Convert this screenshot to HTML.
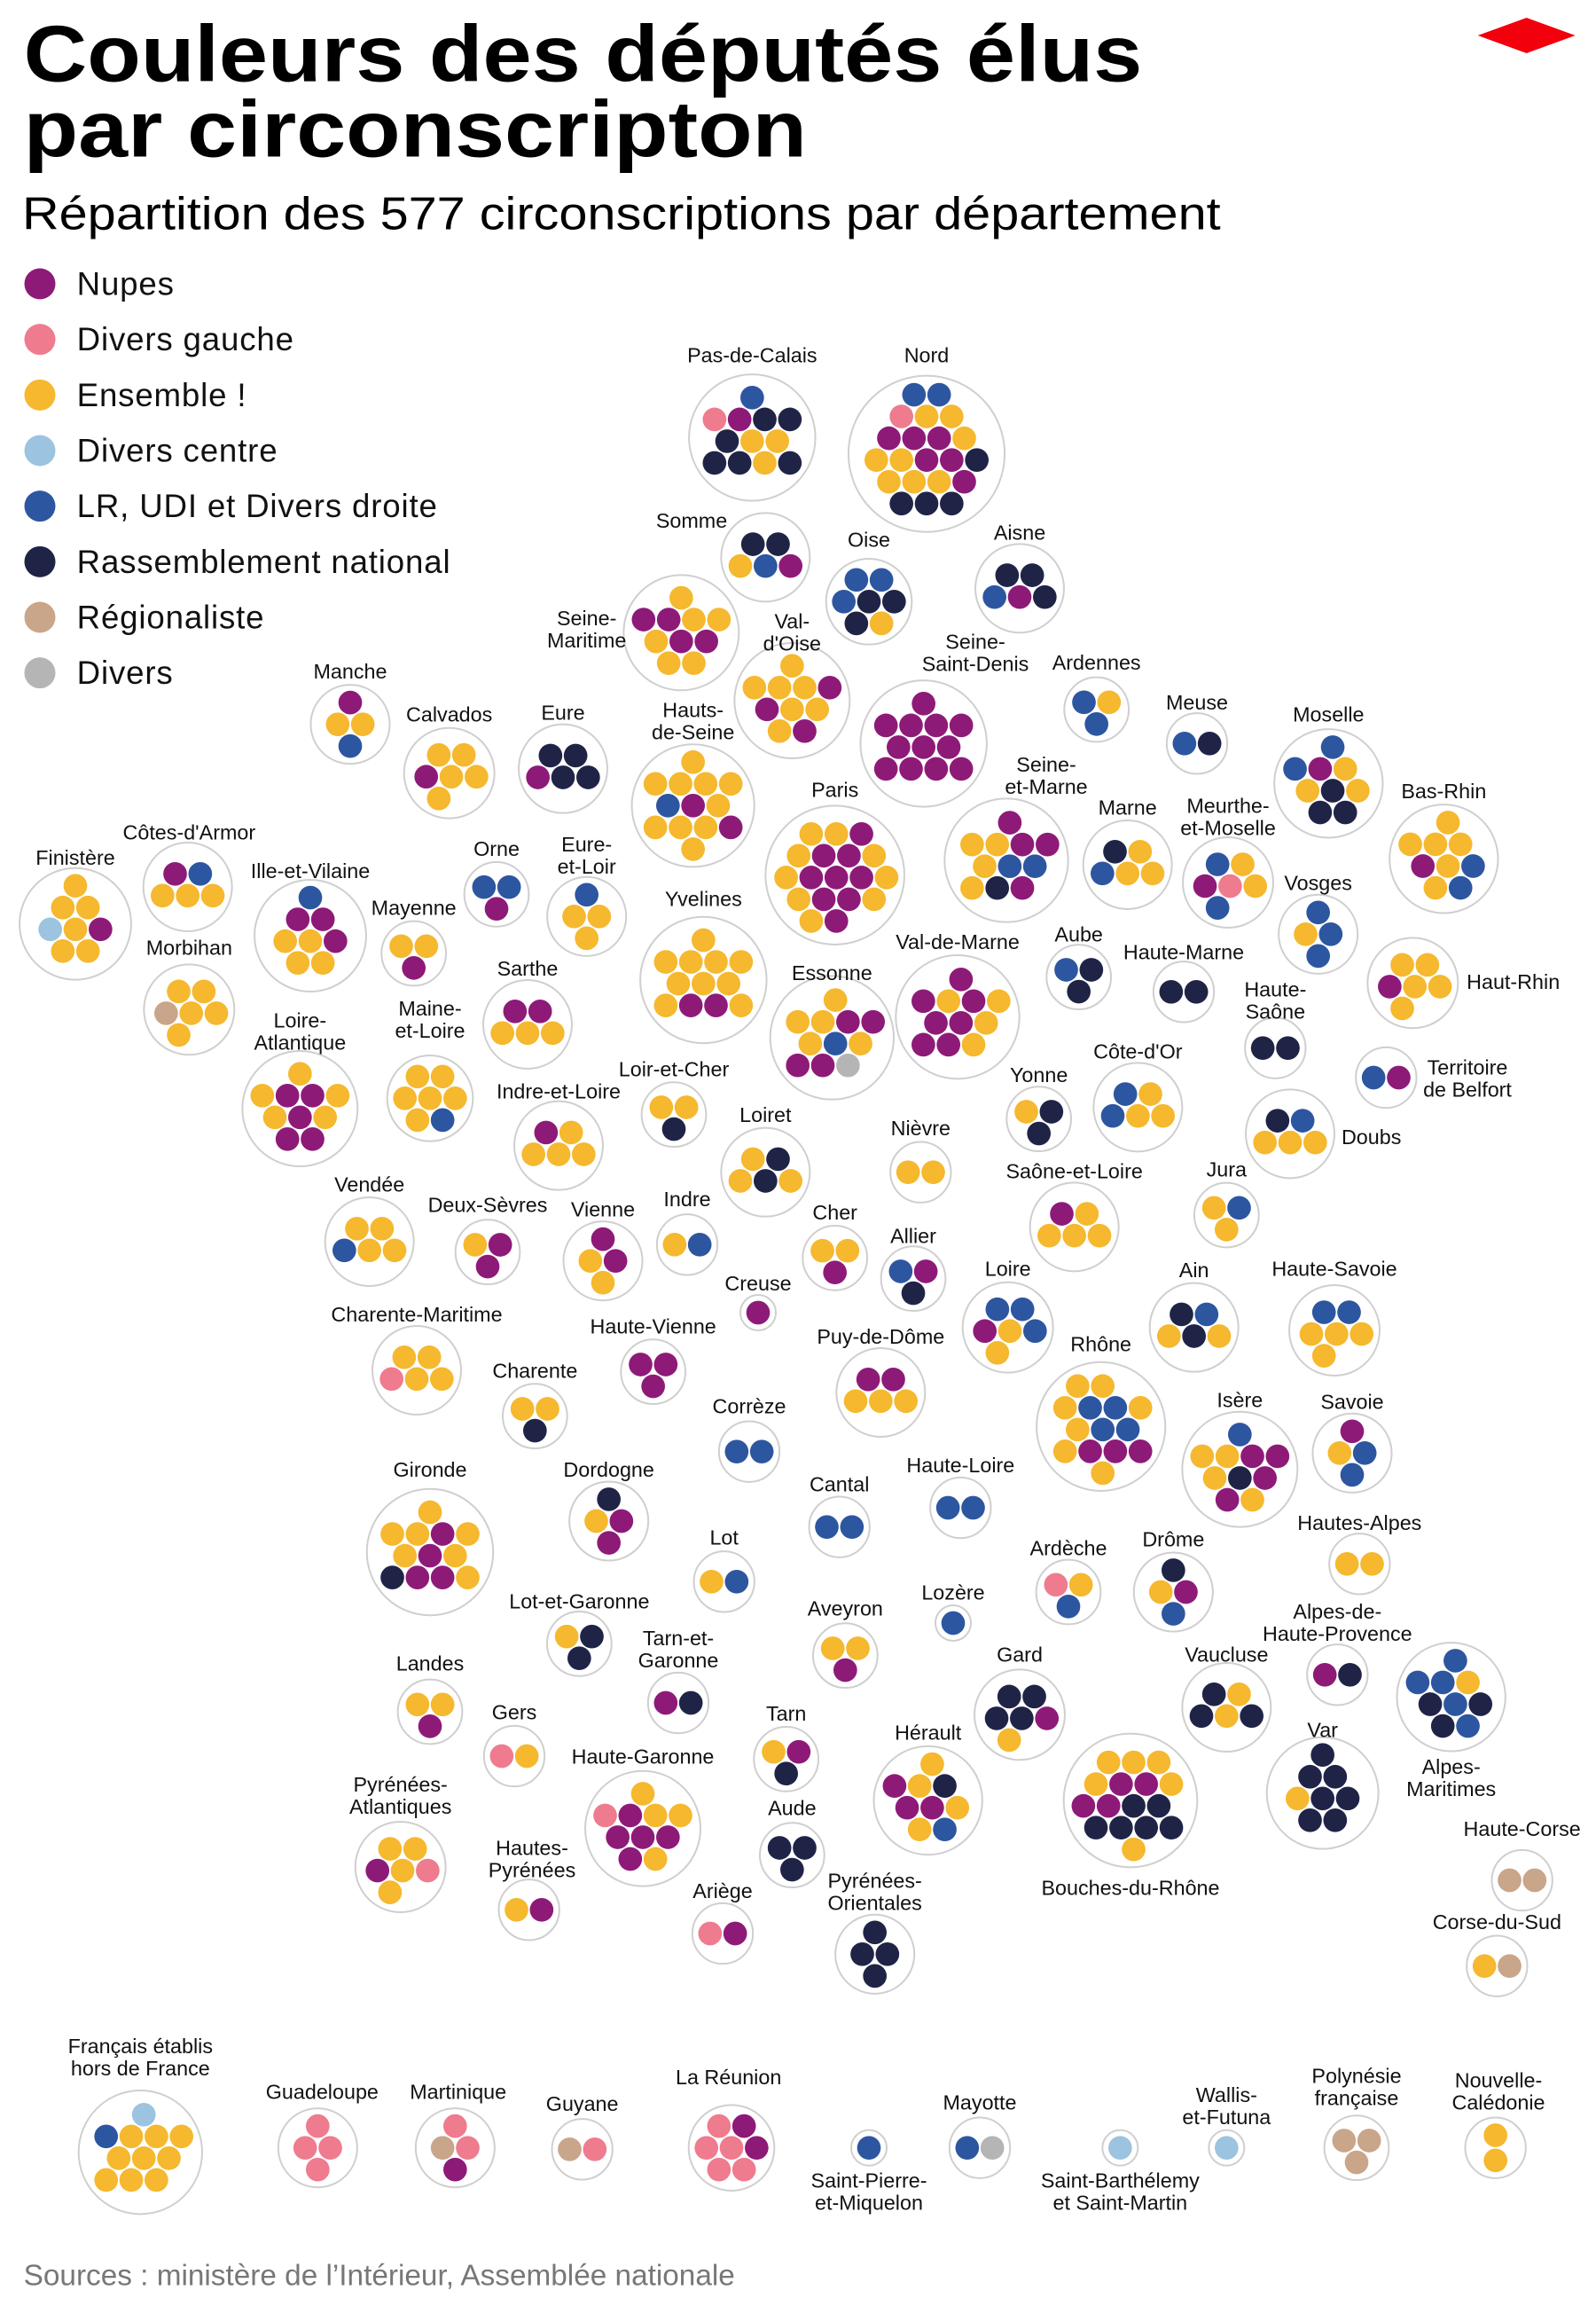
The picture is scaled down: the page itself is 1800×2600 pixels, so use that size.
<!DOCTYPE html>
<html><head><meta charset="utf-8">
<style>
html,body{margin:0;padding:0;background:#fff;}
svg{display:block;}
text{font-family:"Liberation Sans",sans-serif;}
</style></head>
<body>
<svg id="s" xmlns="http://www.w3.org/2000/svg" width="1800" height="2600" viewBox="0 0 1080 1560">
<rect width="1080" height="1560" fill="#fff"/>
<text x="16" y="55" font-size="54" font-weight="900" textLength="757" lengthAdjust="spacingAndGlyphs" fill="#000">Couleurs des députés élus</text>
<text x="16" y="106" font-size="54" font-weight="900" textLength="530" lengthAdjust="spacingAndGlyphs" fill="#000">par circonscripton</text>
<text x="15" y="155" font-size="31" textLength="811" lengthAdjust="spacingAndGlyphs" fill="#000">Répartition des 577 circonscriptions par département</text>
<polygon points="1000,24 1033,12 1066,24 1033,36" fill="#f2000c"/>
<g id="legend"></g>
<g id="chart"></g>
<text x="16" y="1546" font-size="20" fill="#777">Sources : ministère de l’Intérieur, Assemblée nationale</text>
</svg>
<script>
var C={N:"#8e1a78",G:"#ef7b8e",E:"#f5b82e",C:"#9cc3e0",L:"#2d56a0",R:"#1f2447",T:"#c9a58a",D:"#b5b5b5"};
var NS="http://www.w3.org/2000/svg";
function el(t,a,p,txt){var e=document.createElementNS(NS,t);for(var k in a)e.setAttribute(k,a[k]);if(txt!==undefined)e.textContent=txt;(p||document.getElementById('chart')).appendChild(e);return e;}
var leg=[["N","Nupes"],["G","Divers gauche"],["E","Ensemble !"],["C","Divers centre"],["L","LR, UDI et Divers droite"],["R","Rassemblement national"],["T","Régionaliste"],["D","Divers"]];
var lg=document.getElementById('legend');
leg.forEach(function(l,i){var y=192+i*37.6;el('circle',{cx:27,cy:y,r:10.5,fill:C[l[0]]},lg);el('text',{x:52,y:y+7.5,'font-size':22,fill:'#111','letter-spacing':'0.5'},lg,l[1]);});
var D=[
["Pas-de-Calais",509,240,509,296,"LGNRRREERRER"],
["Nord",627,240,627,307,"LLGEENNNEEENNREEENRRR"],
["Somme",468,352,518,377,"RRELN"],
["Oise",588,365,588,407,"LLLRRRE"],
["Aisne",690,360,690,398,"RRLNR"],
["Seine-|Maritime",397,418,461,428,"ENNEEENNEE"],
["Val-|d'Oise",536,420,536,474,"EEEENNEEEN"],
["Seine-|Saint-Denis",660,434,625,503,"NNNNNNNNNNNN"],
["Ardennes",742,448,742,480,"LEL"],
["Meuse",810,475,810,503,"LR"],
["Moselle",899,483,899,530,"LLNEERERR"],
["Manche",237,454,237,490,"NEEL"],
["Calvados",304,483,304,523,"EENEEE"],
["Eure",381,482,381,520,"RRNRR"],
["Hauts-|de-Seine",469,480,469,545,"EEEEELNEEEENE"],
["Paris",565,534,565,592,"EENENNEENNNEENNEEN"],
["Seine-|et-Marne",708,517,681,582,"NEENNELLERN"],
["Marne",763,546,763,585,"RELEE"],
["Meurthe-|et-Moselle",831,545,831,597,"LENGEL"],
["Bas-Rhin",977,535,977,581,"EEEENELEL"],
["Finistère",51,580,51,625,"EEECENEE"],
["Côtes-d'Armor",128,563,127,600,"NLEEE"],
["Ille-et-Vilaine",210,589,210,633,"LNNEENEE"],
["Orne",336,574,336,605,"LLN"],
["Eure-|et-Loir",397,571,397,620,"LEEE"],
["Mayenne",280,614,280,645,"EEN"],
["Yvelines",476,608,476,663,"EEEEEEEEENNE"],
["Vosges",892,597,892,632,"LELL"],
["Haut-Rhin",1024,664,956,665,"EENEEE"],
["Morbihan",128,641,128,683,"EETEEE"],
["Sarthe",357,655,357,693,"NNEEE"],
["Essonne",563,658,563,702,"EEENNELENND"],
["Val-de-Marne",648,637,648,688,"NNENENNENNE"],
["Aube",730,632,730,661,"LRR"],
["Haute-Marne",801,644,801,671,"RR"],
["Haute-|Saône",863,669,863,709,"RR"],
["Loire-|Atlantique",203,690,203,750,"EENNEENENN"],
["Maine-|et-Loire",291,682,291,743,"EEEEEEL"],
["Loir-et-Cher",456,723,456,754,"EER"],
["Indre-et-Loire",378,738,378,775,"NEEEE"],
["Territoire|de Belfort",993,722,938,729,"LN"],
["Côte-d'Or",770,711,770,749,"LELEE"],
["Yonne",703,727,703,757,"ERR"],
["Doubs",928,769,873,767,"RLEEE"],
["Loiret",518,754,518,793,"ERERE"],
["Nièvre",623,763,623,793,"EE"],
["Saône-et-Loire",727,792,727,830,"NEEEE"],
["Jura",830,791,830,822,"ELE"],
["Vendée",250,801,250,840,"EELEE"],
["Deux-Sèvres",330,815,330,847,"ENN"],
["Vienne",408,818,408,853,"NENE"],
["Indre",465,811,465,842,"EL"],
["Cher",565,820,565,851,"EEN"],
["Allier",618,836,618,865,"LNR"],
["Creuse",513,868,513,888,"N"],
["Loire",682,858,682,898,"LLNELE"],
["Ain",808,859,808,898,"RLERE"],
["Haute-Savoie",903,858,903,900,"LLEEEE"],
["Charente-Maritime",282,889,282,927,"EEGEE"],
["Haute-Vienne",442,897,442,928,"NNN"],
["Charente",362,927,362,958,"EER"],
["Puy-de-Dôme",596,904,596,942,"NNEEE"],
["Rhône",745,909,745,965,"EEELLEELLENNNE"],
["Isère",839,947,839,994,"LEENNERNNE"],
["Savoie",915,948,915,983,"NELL"],
["Corrèze",507,951,507,982,"LL"],
["Gironde",291,994,291,1050,"EEENEENERNNE"],
["Dordogne",412,994,412,1029,"RENN"],
["Cantal",568,1004,568,1033,"LL"],
["Haute-Loire",650,991,650,1020,"LL"],
["Hautes-Alpes",920,1030,920,1058,"EE"],
["Lot",490,1040,490,1070,"EL"],
["Ardèche",723,1047,723,1077,"GEL"],
["Drôme",794,1041,794,1077,"RENL"],
["Lot-et-Garonne",392,1083,392,1112,"ERR"],
["Lozère",645,1077,645,1098,"L"],
["Aveyron",572,1088,572,1120,"EEN"],
["Alpes-de-|Haute-Provence",905,1090,905,1133,"NR"],
["Tarn-et-|Garonne",459,1108,459,1152,"NR"],
["Landes",291,1125,291,1158,"EEN"],
["Gard",690,1119,690,1160,"RRRRNE"],
["Vaucluse",830,1119,830,1155,"RERER"],
["Alpes-|Maritimes",982,1195,982,1148,"LLLERLRRL"],
["Gers",348,1158,348,1188,"GE"],
["Haute-Garonne",435,1188,435,1237,"EGNEENNNNE"],
["Tarn",532,1159,532,1190,"ENR"],
["Hérault",628,1172,628,1218,"ENERNNEEL"],
["Bouches-du-Rhône",765,1277,765,1218,"EEEENNENNRRRRRRE"],
["Var",895,1170,895,1213,"RRRERRRR"],
["Pyrénées-|Atlantiques",271,1207,271,1263,"EENEGE"],
["Aude",536,1223,536,1255,"RRR"],
["Hautes-|Pyrénées",360,1250,358,1292,"EN"],
["Ariège",489,1279,489,1308,"GN"],
["Pyrénées-|Orientales",592,1272,592,1322,"RRRR"],
["Haute-Corse",1030,1237,1030,1272,"TT"],
["Corse-du-Sud",1013,1300,1013,1330,"ET"],
["Français établis|hors de France",95,1384,95,1456,"CLEEEEEEEEE"],
["Guadeloupe",218,1415,215,1453,"GGGG"],
["Martinique",310,1415,308,1453,"GTGN"],
["Guyane",394,1423,394,1454,"TG"],
["La Réunion",493,1405,495,1453,"GNGGNGG"],
["Saint-Pierre-|et-Miquelon",588,1475,588,1453,"L"],
["Mayotte",663,1422,663,1453,"LD"],
["Saint-Barthélemy|et Saint-Martin",758,1475,758,1453,"C"],
["Wallis-|et-Futuna",830,1417,830,1453,"C"],
["Polynésie|française",918,1404,918,1453,"TTT"],
["Nouvelle-|Calédonie",1014,1407,1012,1453,"EE"]
];
var S=17,H=S*0.866,lat=[];
for(var j=-6;j<=6;j++)for(var i=-7;i<=7;i++){lat.push([i*S+(j&1?S/2:0),j*H]);}
function pick(n){
 if(n==1)return [[0,0]];
 if(n==2)return [[-S/2,0],[S/2,0]];
 if(n==3)return [[-S/2,-H/2],[S/2,-H/2],[0,H/2]];
 if(n==4)return [[0,-H],[-S/2,0],[S/2,0],[0,H]];
 var a=lat.map(function(p){return [p[0],p[1],Math.hypot(p[0],p[1])+p[1]*0.001+p[0]*0.0001];});
 a.sort(function(x,y){return x[2]-y[2];});
 return a.slice(0,n).map(function(p){return [p[0],p[1]];});
}
D.forEach(function(d){
 var cols=d[5],n=cols.length,pts=pick(n);
 if(d[0].indexOf("Nouvelle")==0)pts=[[0,-8.5],[0,8.5]];
 var mx=0,my=0;pts.forEach(function(p){mx+=p[0];my+=p[1];});mx/=n;my/=n;
 var R=0;pts.forEach(function(p){p[0]-=mx;p[1]-=my;R=Math.max(R,Math.hypot(p[0],p[1]));});
 pts.sort(function(a,b){return Math.abs(a[1]-b[1])>2?a[1]-b[1]:a[0]-b[0];});
 el('circle',{cx:d[3],cy:d[4],r:R+8+4,fill:'#fff',stroke:'#cfcfcf','stroke-width':1.2});
 pts.forEach(function(p,k){el('circle',{cx:d[3]+p[0],cy:d[4]+p[1],r:8,fill:C[cols[k]]});});
 d[0].split('|').forEach(function(t,k){el('text',{x:d[1],y:d[2]+k*15+5,'font-size':14,'text-anchor':'middle',fill:'#111'},null,t);});
});
</script>
</body></html>
